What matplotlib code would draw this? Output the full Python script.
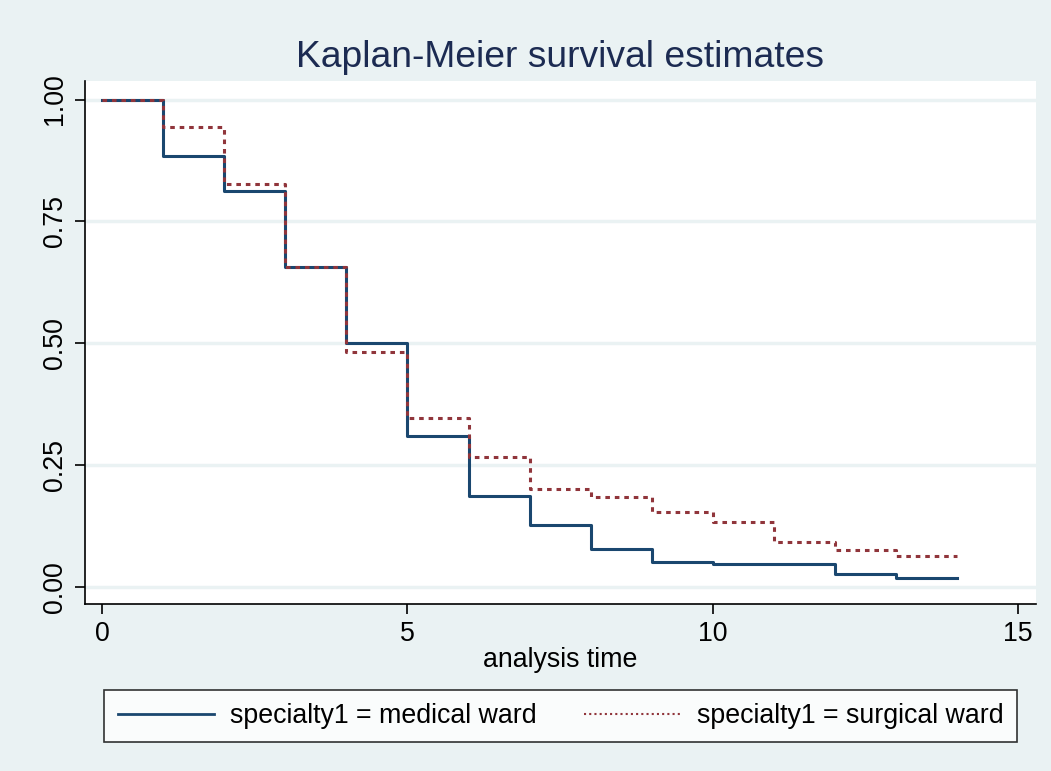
import numpy as np
import matplotlib.pyplot as plt
from matplotlib.lines import Line2D

# Kaplan-Meier step estimates
time_med = [0, 1, 2, 3, 4, 5, 6, 7, 8, 9, 10, 11, 12, 13, 14]
surv_med = [1.00, 0.885, 0.812, 0.656, 0.500, 0.310, 0.187, 0.127, 0.077,
            0.052, 0.048, 0.048, 0.027, 0.018, 0.018]

time_surg = [0, 1, 2, 3, 4, 5, 6, 7, 8, 9, 10, 11, 12, 13, 14]
surv_surg = [1.00, 0.944, 0.826, 0.656, 0.481, 0.346, 0.266, 0.201, 0.185,
             0.154, 0.134, 0.092, 0.075, 0.063, 0.063]

labels = ['specialty1 = medical ward', 'specialty1 = surgical ward']
xticks = [0, 5, 10, 15]
yticks = [0.00, 0.25, 0.50, 0.75, 1.00]

bg = '#EAF2F3'
navy = '#1A476F'
maroon = '#90353B'
title_col = '#1C2B52'

plt.rcParams['font.family'] = ['Liberation Sans', 'DejaVu Sans']

fig = plt.figure(figsize=(10.51, 7.71), dpi=100, facecolor=bg)
ax = fig.add_axes([85/1051, 1 - 604/771, (1036-85)/1051, (604-81)/771])
ax.set_facecolor('white')

ax.step(time_med, surv_med, where='post', color=navy, lw=2.2, zorder=3)
ax.step(time_surg, surv_surg, where='post', color=maroon, lw=2.2,
        linestyle=(0, (1.5, 1.6)), zorder=4)

ax.set_xlim(-0.28, 15.29)
ax.set_ylim(-0.035, 1.038)
ax.set_xticks(xticks)
ax.set_yticks(yticks)
ax.set_yticklabels(['%.2f' % v for v in yticks], rotation=90, va='center')
ax.grid(axis='y', color=bg, lw=2.5)
ax.set_axisbelow(True)

for s in ['top', 'right']:
    ax.spines[s].set_visible(False)
for s in ['left', 'bottom']:
    ax.spines[s].set_color('black')
    ax.spines[s].set_linewidth(1.2)
ax.tick_params(direction='out', length=7, width=1.2, labelsize=19.3,
               colors='black', pad=5)

ax.set_xlabel('analysis time', fontsize=19.3, labelpad=0)
ax.set_title('Kaplan-Meier survival estimates', fontsize=26.8,
             color=title_col, pad=10)

handles = [Line2D([], [], color=navy, lw=2),
           Line2D([], [], color=maroon, lw=1.5, linestyle=(0, (1, 1.5)))]
leg = fig.legend(handles, labels, loc='center', ncol=2,
                 bbox_to_anchor=(560.5/1051, 1 - 716/771), fontsize=19.3,
                 frameon=True, fancybox=False, edgecolor='black',
                 handlelength=3.6, handletextpad=0.6, columnspacing=1.75,
                 borderpad=0.5, borderaxespad=0)
leg.get_frame().set_linewidth(1.2)

fig.savefig('out.png', dpi=100, facecolor=bg)
